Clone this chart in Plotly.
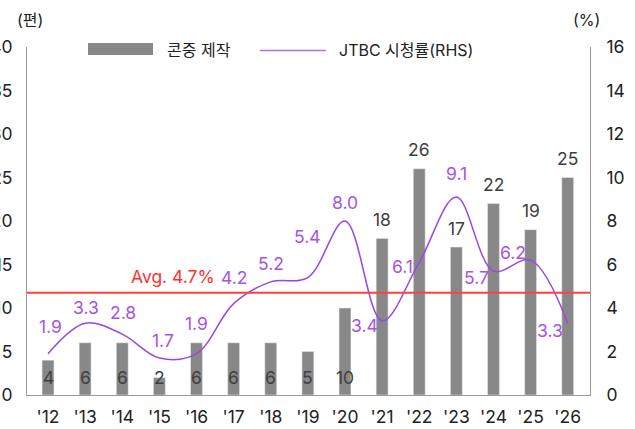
import plotly.graph_objects as go

years = ["'12", "'13", "'14", "'15", "'16", "'17", "'18", "'19", "'20", "'21", "'22", "'23", "'24", "'25", "'26"]
productions = [4, 6, 6, 2, 6, 6, 6, 5, 10, 18, 26, 17, 22, 19, 25]
ratings = [1.9, 3.3, 2.8, 1.7, 1.9, 4.2, 5.2, 5.4, 8.0, 3.4, 6.1, 9.1, 5.7, 6.2, 3.3]
avg_rating = 4.7
bar_name = "콘중 제작"
line_name = "JTBC 시청률(RHS)"
left_unit = "(편)"
right_unit = "(%)"

# label offsets (px) for rating labels
lab_dx = [2, 1, 1, 4, 0, 0, 0, 0, 0, -18, -17, 0, -17, -18, -18]
lab_dy = [27, 16, 22, 18, 30, 26, 18, 41, 19, -4, -4, 24, -6, 8, -7]

FONT = "Inter, 'Noto Sans CJK KR', sans-serif"
BAR_C = "#888888"
LINE_C = "#9B45E4"
LAB_C = "#A455E6"
TXT = "#222222"
AXC = "#9a9a9a"
FS = 17.5

fig = go.Figure()
fig.add_trace(go.Bar(x=years, y=productions, marker_color=BAR_C, width=0.32,
                     name=bar_name, showlegend=False))
fig.add_trace(go.Scatter(x=years, y=ratings, yaxis="y2", mode="lines",
                         line=dict(color=LINE_C, width=1.5, shape="spline", smoothing=1.0),
                         name=line_name, showlegend=False))

ann = []
for i, (yr, v) in enumerate(zip(years, productions)):
    if v < 15:
        ann.append(dict(x=yr, y=0, xref="x", yref="y", text=str(v), showarrow=False,
                        yanchor="middle", yshift=18, font=dict(size=FS, color="#404040", family=FONT)))
    else:
        ann.append(dict(x=yr, y=v, xref="x", yref="y", text=str(v), showarrow=False,
                        yanchor="middle", yshift=19, font=dict(size=FS, color="#404040", family=FONT)))
for i, (yr, r) in enumerate(zip(years, ratings)):
    ann.append(dict(x=yr, y=r, xref="x", yref="y2", text=f"{r:.1f}", showarrow=False,
                    xanchor="center", yanchor="middle", xshift=lab_dx[i], yshift=lab_dy[i],
                    font=dict(size=FS, color=LAB_C, family=FONT)))
ann.append(dict(x=(172.5 - 27) / 563, y=1 - (276.7 - 47) / 348, xref="paper", yref="paper",
                xanchor="center", yanchor="middle", showarrow=False, text=f"Avg. {avg_rating}%",
                font=dict(size=FS, color="#FF3030", family=FONT)))
ann.append(dict(x=-12 / 563, y=1 + 27 / 348, xref="paper", yref="paper", xanchor="left",
                yanchor="middle", showarrow=False, text=left_unit,
                font=dict(size=16, color=TXT, family=FONT)))
ann.append(dict(x=1 + 12 / 563, y=1 + 27 / 348, xref="paper", yref="paper", xanchor="right",
                yanchor="middle", showarrow=False, text=right_unit,
                font=dict(size=16, color=TXT, family=FONT)))
# legend texts
ann.append(dict(x=138 / 563, y=1 - 3 / 348, xref="paper", yref="paper", xanchor="left",
                yanchor="middle", showarrow=False, text=bar_name,
                font=dict(size=16, color=TXT, family=FONT)))
ann.append(dict(x=310 / 563, y=1 - 3 / 348, xref="paper", yref="paper", xanchor="left",
                yanchor="middle", showarrow=False, text=line_name,
                font=dict(size=16, color=TXT, family=FONT)))

shapes = [
    dict(type="line", xref="paper", yref="y2", x0=0, x1=1, y0=avg_rating, y1=avg_rating,
         line=dict(color="#FF4040", width=2)),
    dict(type="rect", xref="paper", yref="paper", x0=61 / 563, x1=126 / 563,
         y0=1 - 8 / 348, y1=1 + 4 / 348, fillcolor=BAR_C, line=dict(width=0)),
    dict(type="line", xref="paper", yref="paper", x0=233 / 563, x1=299 / 563,
         y0=1 - 3.5 / 348, y1=1 - 3.5 / 348, line=dict(color="#B070F0", width=1.5)),
]

fig.update_layout(
    width=635, height=429,
    margin=dict(l=27, r=45, t=47, b=34, autoexpand=False),
    paper_bgcolor="white", plot_bgcolor="white",
    showlegend=False,
    bargap=0.68,
    font=dict(family=FONT, color=TXT, size=FS),
    xaxis=dict(type="category", range=[-0.566, 14.6], showline=True, linecolor=AXC,
               linewidth=1, ticks="", showgrid=False, tickfont=dict(size=FS, color=TXT),
               ticklabelstandoff=6, automargin=False),
    yaxis=dict(range=[0, 40], tickvals=list(range(0, 41, 5)), showline=True, linecolor=AXC,
               linewidth=1, showgrid=False, zeroline=False, ticks="",
               tickfont=dict(size=FS, color=TXT), ticklabelstandoff=10, automargin=False),
    yaxis2=dict(range=[0, 16], tickvals=list(range(0, 17, 2)), overlaying="y", side="right",
                showline=True, linecolor=AXC, linewidth=1, showgrid=False, zeroline=False,
                ticks="", tickfont=dict(size=FS, color=TXT), ticklabelstandoff=12,
                automargin=False),
    annotations=ann,
    shapes=shapes,
)

fig.write_html("out.html", config={"displayModeBar": False},
               post_script="document.body.style.margin='0';document.body.style.overflow='hidden';")
